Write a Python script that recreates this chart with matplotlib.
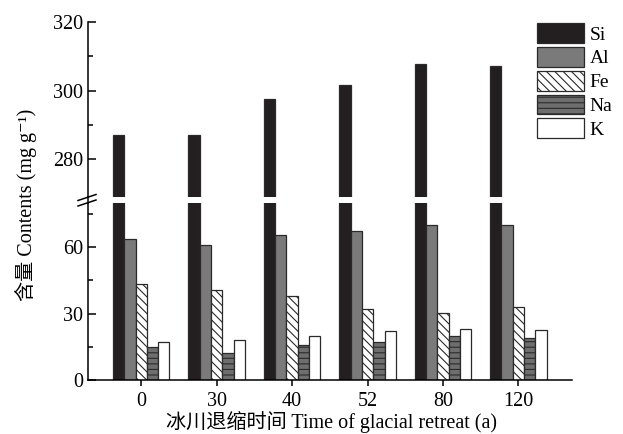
import numpy as np
import matplotlib.pyplot as plt
from matplotlib.lines import Line2D
from matplotlib.ticker import FixedLocator

plt.rcParams['font.family'] = ['Liberation Serif', 'Noto Sans CJK SC', 'DejaVu Serif']
plt.rcParams['hatch.linewidth'] = 0.8

years = ['0', '30', '40', '52', '80', '120']
elements = ['Si', 'Al', 'Fe', 'Na', 'K']
si = [287.1, 287.0, 297.7, 301.6, 307.8, 307.2]
al = [63.6, 60.9, 65.4, 67.4, 70.0, 70.0]
fe = [43.6, 40.5, 38.0, 32.2, 30.1, 32.8]
na = [14.7, 12.4, 15.8, 17.1, 19.8, 19.2]
k = [17.1, 17.9, 19.8, 22.0, 23.1, 22.6]

values = [si, al, fe, na, k]
faces = ['#231f20', '#7a7a7a', 'white', '#6e6e6e', 'white']
hatches = [None, None, '\\\\\\\\', '---', None]
edge = '#2a2a2a'

fig = plt.figure(figsize=(6.23, 4.34), dpi=100)
L, R = 88 / 623, 572 / 623
ax_top = fig.add_axes([L, 1 - 197 / 434, R - L, (197 - 22) / 434])
ax_bot = fig.add_axes([L, 1 - 380 / 434, R - L, (380 - 203) / 434])

x = np.arange(len(years))
w = 0.15
handles = []
for i, (vals, fc, h) in enumerate(zip(values, faces, hatches)):
    for ax in (ax_top, ax_bot):
        b = ax.bar(x + (i - 2) * w, vals, w, color=fc, edgecolor=edge,
                   linewidth=0.9, hatch=h)
    handles.append(b)

for ax in (ax_top, ax_bot):
    ax.set_xlim(-0.705, 5.71)
    ax.spines['top'].set_visible(False)
    ax.spines['right'].set_visible(False)
    ax.spines['left'].set_linewidth(1.1)
    ax.tick_params(axis='y', direction='in', length=6, width=1.1, labelsize=14.5)
    ax.tick_params(axis='y', which='minor', direction='in', length=3.5, width=1.1)

ax_top.set_ylim(269, 320)
ax_top.set_yticks([280, 300, 320])
ax_top.yaxis.set_minor_locator(FixedLocator([290, 310]))
ax_top.spines['bottom'].set_visible(False)
ax_top.set_xticks([])

ax_bot.set_ylim(0, 80)
ax_bot.set_yticks([0, 30, 60])
ax_bot.yaxis.set_minor_locator(FixedLocator([15, 45, 75]))
ax_bot.spines['bottom'].set_linewidth(1.1)
ax_bot.set_xticks(x)
ax_bot.set_xticklabels(years)
ax_bot.tick_params(axis='x', direction='out', length=4, width=1.1, labelsize=14.5, pad=5)

# continuous spine through the break and break marks
fig.add_artist(Line2D([L, L], [1 - 203 / 434, 1 - 197 / 434], color='black', lw=1.1))
for yc in (197.5, 203.0):
    fig.add_artist(Line2D([78 / 623, 96 / 623], [1 - (yc + 3) / 434, 1 - (yc - 3) / 434],
                          color='black', lw=1.1))

fig.legend(handles, elements, loc='upper left', bbox_to_anchor=(537 / 623, 1 - 23 / 434),
           frameon=False, fontsize=14, handlelength=2.4, handleheight=1.2,
           handletextpad=0.3, labelspacing=0.17, borderaxespad=0, borderpad=0)

fig.text(26 / 623, 1 - 205 / 434, '含量 Contents (mg g⁻¹)', rotation=90,
         ha='center', va='center', fontsize=14.5)
fig.text(331 / 623, 1 - 422 / 434, '冰川退缩时间 Time of glacial retreat (a)',
         ha='center', va='center', fontsize=14.5)

fig.savefig('out.png', dpi=100)
